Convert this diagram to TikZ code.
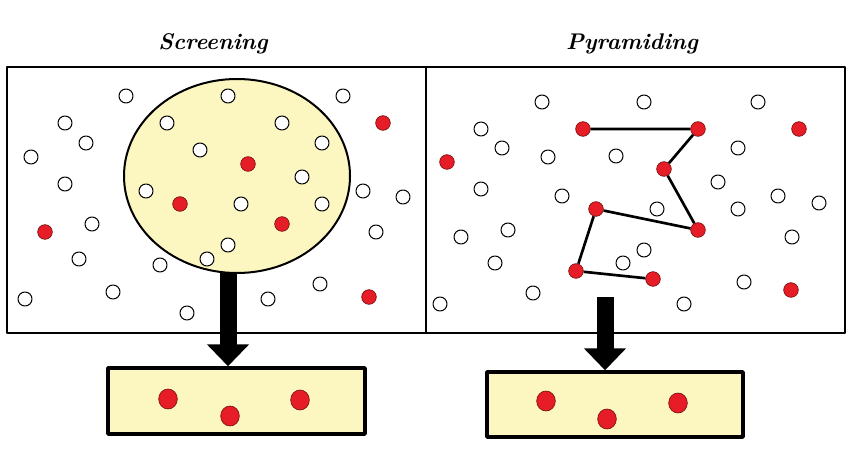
\documentclass[tikz,border=0pt]{standalone}
\usepackage{xcolor}
\usepackage{tikz}
\usetikzlibrary{shapes.geometric,arrows.meta}
\definecolor{paleyellow}{RGB}{252,247,192}
\definecolor{dotred}{RGB}{230,28,38}
\definecolor{dotedge}{RGB}{120,20,20}
\begin{document}
\begin{tikzpicture}[x=0.75pt,y=-0.75pt,line join=round,>=latex,
    wdot/.style={circle,draw=black,fill=white,line width=0.75pt,minimum size=10.5pt,inner sep=0pt},
    rdot/.style={circle,draw=dotedge,fill=dotred,line width=0.5pt,minimum size=11pt,inner sep=0pt},
    bdot/.style={ellipse,draw=dotedge,fill=dotred,line width=0.5pt,minimum width=14pt,minimum height=15pt,inner sep=0pt},
    title/.style={font=\fontsize{17}{20}\selectfont\bfseries\itshape},
    pickbox/.style={rectangle,draw,fill=paleyellow,line width=2.6pt,inner sep=0pt},
    bigarrow/.style={line width=12.75pt,-{Triangle[width=30.75pt,length=16.5pt]}},
    chain/.style={line width=2pt}]
                \useasboundingbox (0,0) rectangle (862,463);
                % titles
                \node[title] (tL) at (213,44) {Screening};
                \node[title] (tR) at (632,44) {Pyramiding};
                % panels
                \draw[line width=0.8pt] (7,67) rectangle (426,333);
                \draw[line width=0.8pt] (426,67) rectangle (845,333);
                % screening panel
                \node[ellipse,draw,fill=paleyellow,line width=1.5pt,minimum width=169.5pt,minimum height=145.5pt] (sel) at (237,176) {};
                \node[wdot] (l1) at (126,96) {};
                \node[wdot] (l2) at (228,96) {};
                \node[wdot] (l3) at (343,96) {};
                \node[wdot] (l4) at (65,123) {};
                \node[wdot] (l5) at (167,123) {};
                \node[wdot] (l6) at (282,123) {};
                \node[rdot] (lr1) at (383,123) {};
                \node[wdot] (l7) at (86,143) {};
                \node[wdot] (l8) at (322,143) {};
                \node[wdot] (l9) at (31,157) {};
                \node[wdot] (l10) at (200,150) {};
                \node[rdot] (lr2) at (248,164) {};
                \node[wdot] (l11) at (302,177) {};
                \node[wdot] (l12) at (65,184) {};
                \node[wdot] (l13) at (146,191) {};
                \node[wdot] (l14) at (363,191) {};
                \node[wdot] (l15) at (403,197) {};
                \node[rdot] (lr3) at (180,204) {};
                \node[wdot] (l16) at (241,204) {};
                \node[wdot] (l17) at (322,204) {};
                \node[rdot] (lr4) at (45,232) {};
                \node[wdot] (l18) at (92,224) {};
                \node[rdot] (lr5) at (282,224) {};
                \node[wdot] (l19) at (376,232) {};
                \node[wdot] (l20) at (228,245) {};
                \node[wdot] (l21) at (79,259) {};
                \node[wdot] (l22) at (207,259) {};
                \node[wdot] (l23) at (160,265) {};
                \node[wdot] (l24) at (320,284) {};
                \node[wdot] (l25) at (113,292) {};
                \node[wdot] (l26) at (25,299) {};
                \node[wdot] (l27) at (268,299) {};
                \node[rdot] (lr6) at (369,297) {};
                \node[wdot] (l28) at (187,313) {};
                % pyramiding panel
                \node[wdot] (r1) at (542,102) {};
                \node[wdot] (r2) at (644,102) {};
                \node[wdot] (r3) at (758,102) {};
                \node[wdot] (r4) at (481,129) {};
                \node[rdot] (p1) at (583,129) {};
                \node[rdot] (p2) at (698,129) {};
                \node[rdot] (rr1) at (799,129) {};
                \node[wdot] (r5) at (502,148) {};
                \node[wdot] (r6) at (548,157) {};
                \node[wdot] (r7) at (616,156) {};
                \node[wdot] (r8) at (738,148) {};
                \node[rdot] (rr2) at (447,162) {};
                \node[rdot] (p3) at (664,169) {};
                \node[wdot] (r9) at (718,182) {};
                \node[wdot] (r10) at (481,189) {};
                \node[wdot] (r11) at (562,196) {};
                \node[wdot] (r12) at (778,196) {};
                \node[wdot] (r13) at (819,203) {};
                \node[rdot] (p5) at (596,209) {};
                \node[wdot] (r14) at (657,209) {};
                \node[wdot] (r15) at (738,209) {};
                \node[rdot] (p4) at (698,230) {};
                \node[wdot] (r16) at (461,237) {};
                \node[wdot] (r17) at (508,230) {};
                \node[wdot] (r18) at (792,237) {};
                \node[wdot] (r19) at (644,250) {};
                \node[wdot] (r20) at (495,263) {};
                \node[wdot] (r21) at (623,263) {};
                \node[rdot] (p6) at (576,271) {};
                \node[rdot] (p7) at (653,279) {};
                \node[wdot] (r22) at (744,282) {};
                \node[rdot] (rr3) at (791,290) {};
                \node[wdot] (r23) at (533,293) {};
                \node[wdot] (r24) at (440,304) {};
                \node[wdot] (r25) at (684,304) {};
                \draw[chain] (p1)--(p2)--(p3)--(p4)--(p5)--(p6)--(p7);
                % selected lines
                \node[pickbox,minimum width=192.75pt,minimum height=49.5pt] (boxL) at (236.5,401) {};
                \node[pickbox,minimum width=192pt,minimum height=48.75pt] (boxR) at (615,404.5) {};
                \node[bdot] (bl1) at (168,399) {};
                \node[bdot] (bl2) at (230,416) {};
                \node[bdot] (bl3) at (300,400) {};
                \node[bdot] (br1) at (546,401) {};
                \node[bdot] (br2) at (607,419) {};
                \node[bdot] (br3) at (678,403) {};
                % arrows
                \coordinate (aL) at (228,272);
                \coordinate (aR) at (605,297);
                \draw[bigarrow] (aL) -- (aL |- boxL.north);
                \draw[bigarrow] (aR) -- (aR |- boxR.north);
              \end{tikzpicture}
\end{document}
